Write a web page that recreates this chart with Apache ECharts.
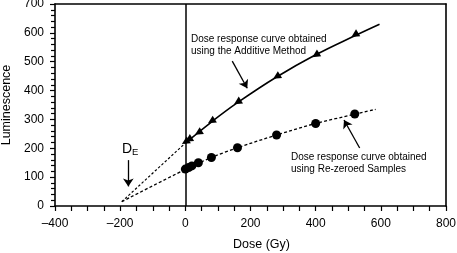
<!DOCTYPE html>
<html>
<head>
<meta charset="utf-8">
<script src="https://cdn.jsdelivr.net/npm/echarts@6/dist/echarts.min.js"></script>
<style>html,body{margin:0;padding:0;background:#fff;}#c{width:457px;height:253px;}</style>
</head>
<body>
<div id="c"></div>
<script>
// Measured points
var addDose = [0, 10, 40, 80, 160, 280, 400, 520];
var addLum = [222, 230, 254, 294, 360, 448, 523, 593];
var rzDose = [0, 10, 20, 40, 80, 160, 280, 400, 520];
var rzLum = [128, 133, 139, 150, 168, 202, 246, 286, 319];
// Fitted curves
var addFitX = [0, 80, 160, 280, 400, 520, 596];
var addFitY = [218, 291, 358, 447, 524, 590, 630];
var addExtX = [-195, 0];
var addExtY = [15, 218];
var rzFitX = [-195, 0, 80, 160, 280, 400, 520, 584];
var rzFitY = [15, 127, 168, 202, 246, 286, 318, 335];
var xTicks = [-400, -200, 0, 200, 400, 600, 800];
var yTicks = [0, 100, 200, 300, 400, 500, 600, 700];

function zip(a, b) { return a.map(function (v, i) { return [v, b[i]]; }); }

var FONT = 'Liberation Sans, Arial, Helvetica, sans-serif';
var frameAxis = {show: true, onZero: false, lineStyle: {color: '#000', width: 1.6}};
var chart = echarts.init(document.getElementById('c'), null, {renderer: 'canvas'});
chart.setOption({
  animation: false,
  grid: {left: 55, right: 11, top: 4, bottom: 47, containLabel: false, outerBoundsMode: 'none'},
  xAxis: [{
    type: 'value', min: xTicks[0], max: xTicks[xTicks.length - 1], interval: 200,
    name: 'Dose (Gy)', nameLocation: 'middle', nameGap: 32,
    nameTextStyle: {color: '#000', fontSize: 12.5, fontFamily: FONT, padding: [0, 0, 0, 22]},
    axisLine: frameAxis,
    axisTick: {show: true, inside: false, length: 5, lineStyle: {color: '#000', width: 1.2}},
    minorTick: {show: true, splitNumber: 4, length: 5, lineStyle: {color: '#000', width: 1.2}},
    splitLine: {show: false},
    axisLabel: {color: '#000', fontSize: 12, fontFamily: FONT, margin: 12,
      formatter: function (v) { return String(v).replace('-', '\u2013'); }}
  }, {
    type: 'value', position: 'top', min: xTicks[0], max: xTicks[xTicks.length - 1],
    axisLine: frameAxis, axisTick: {show: false}, axisLabel: {show: false}, splitLine: {show: false}
  }],
  yAxis: [{
    type: 'value', min: yTicks[0], max: yTicks[yTicks.length - 1], interval: 100,
    name: 'Luminescence', nameLocation: 'middle', nameGap: 40,
    nameTextStyle: {color: '#000', fontSize: 12.5, fontFamily: FONT},
    axisLine: frameAxis,
    axisTick: {show: true, inside: false, length: 5, lineStyle: {color: '#000', width: 1.2}},
    minorTick: {show: true, splitNumber: 5, length: 4, lineStyle: {color: '#000', width: 1.2}},
    splitLine: {show: false},
    axisLabel: {color: '#000', fontSize: 12, fontFamily: FONT, margin: 11}
  }, {
    type: 'value', position: 'right', min: yTicks[0], max: yTicks[yTicks.length - 1],
    axisLine: frameAxis, axisTick: {show: false}, axisLabel: {show: false}, splitLine: {show: false}
  }],
  series: [
    {
      type: 'line', data: zip(addExtX, addExtY), symbol: 'none', silent: true,
      lineStyle: {color: '#000', width: 1.2, type: [2.5, 2]},
      markLine: {
        silent: true, symbol: 'none', label: {show: false},
        lineStyle: {color: '#000', width: 1.5, type: 'solid'},
        data: [{xAxis: 0}]
      }
    },
    {
      type: 'line', data: zip(addFitX, addFitY), symbol: 'none', smooth: 0.4, silent: true,
      lineStyle: {color: '#000', width: 1.6, type: 'solid'}
    },
    {
      type: 'line', data: zip(rzFitX, rzFitY), symbol: 'none', smooth: 0.3, silent: true,
      lineStyle: {color: '#000', width: 1.3, type: [3, 2.2]}
    },
    {
      type: 'scatter', data: zip(addDose, addLum), symbol: 'triangle', symbolSize: 8, symbolRotate: 122,
      itemStyle: {color: '#000', opacity: 1}, silent: true
    },
    {
      type: 'scatter', data: zip(rzDose, rzLum), symbol: 'circle', symbolSize: 9,
      itemStyle: {color: '#000', opacity: 1}, silent: true,
      markLine: {
        silent: true, symbol: ['none', 'arrow'], symbolSize: 8, label: {show: false},
        itemStyle: {color: '#000', opacity: 1},
        lineStyle: {color: '#000', width: 1.3, type: 'solid', opacity: 1},
        data: [
          [{coord: [144, 502]}, {coord: [190, 408]}],
          [{coord: [535, 201]}, {coord: [487, 298]}],
          [{coord: [-175, 159]}, {coord: [-175, 68]}]
        ]
      }
    }
  ],
  graphic: [
    {type: 'text', left: 191, top: 33, style: {text: 'Dose response curve obtained\nusing the Additive Method', font: '10px ' + FONT, fill: '#000', lineHeight: 12}},
    {type: 'text', left: 291, top: 151, style: {text: 'Dose response curve obtained\nusing Re-zeroed Samples', font: '10px ' + FONT, fill: '#000', lineHeight: 12}},
    {type: 'text', left: 122, top: 142, style: {text: '{d|D}{e|E}', rich: {d: {fontSize: 14, fontFamily: FONT, fill: '#000'}, e: {fontSize: 9.5, fontFamily: FONT, fill: '#000', padding: [6, 0, 0, 0]}}}}
  ]
});
</script>
</body>
</html>
